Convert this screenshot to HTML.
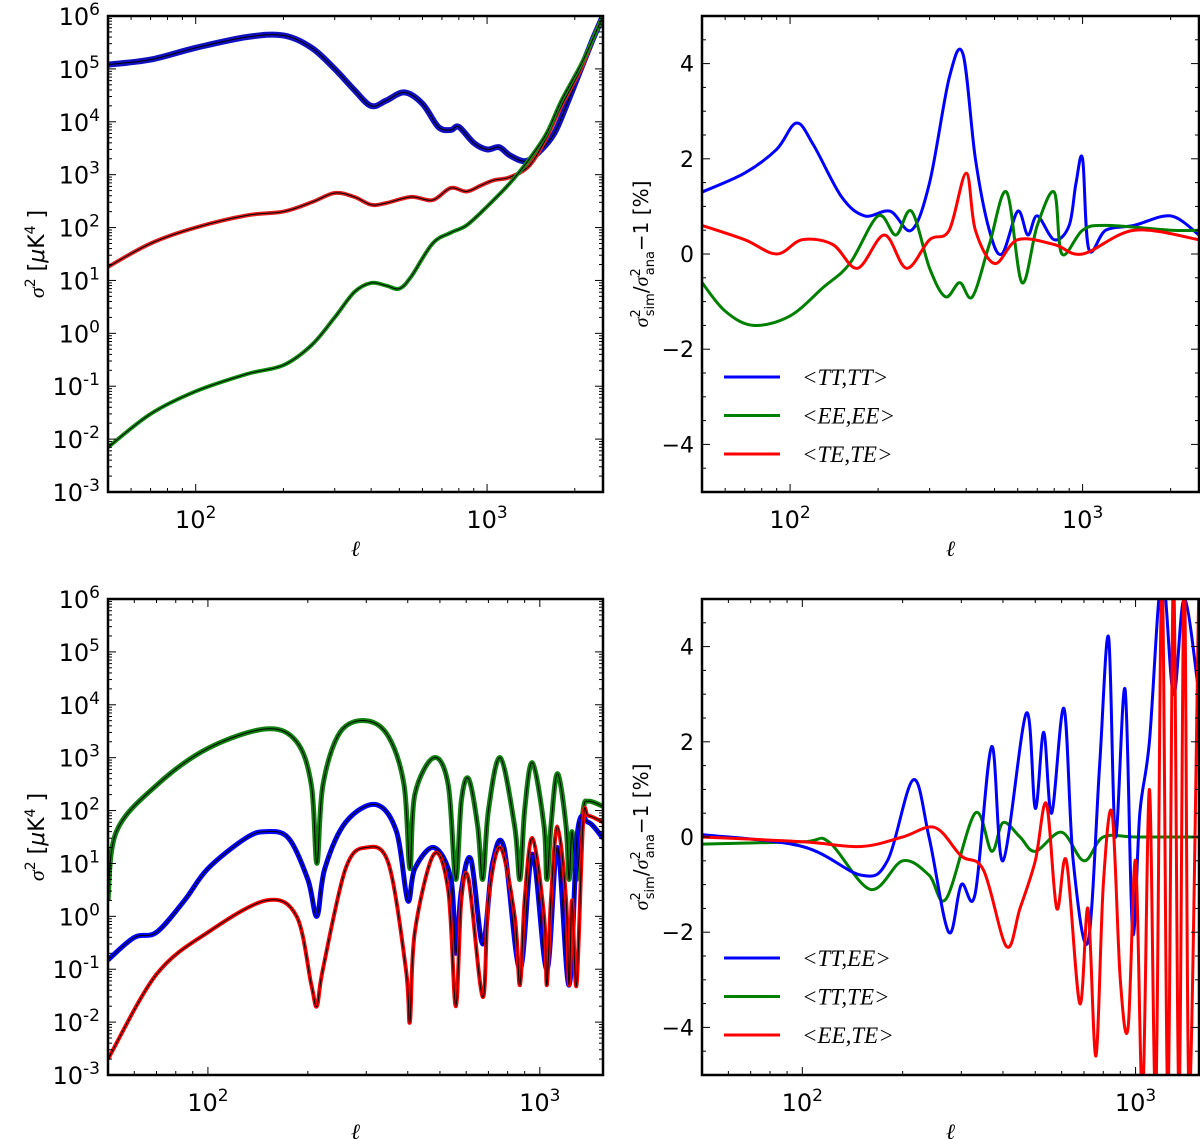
<!DOCTYPE html>
<html><head><meta charset="utf-8"><style>
body{margin:0;background:#fff}
svg{display:block;font-family:"DejaVu Sans","Liberation Sans",sans-serif}
</style></head><body>
<svg id="s" width="1200" height="1139" viewBox="0 0 1200 1139"></svg>
<script>
// ---------- data ----------
const tlTT=[[50,1.2e5],[70,1.5e5],[100,2.5e5],[150,4e5],[200,4.3e5],[250,2.5e5],[300,1e5],[350,4e4],[400,2e4],[450,2.5e4],[520,3.6e4],[600,2.2e4],[680,8e3],[750,7e3],[800,8e3],[900,4e3],[1000,3e3],[1100,3.3e3],[1200,2.3e3],[1350,1.8e3],[1500,2.6e3],[1700,6e3],[1900,2.5e4],[2100,1e5],[2300,3.5e5],[2500,1e6]];
const tlTE=[[50,18],[70,50],[100,100],[150,170],[200,200],[250,300],[300,450],[350,380],[400,270],[450,290],[550,380],[650,330],[750,560],[850,480],[950,620],[1050,780],[1200,900],[1400,1500],[1600,5e3],[1800,2e4],[2100,1e5],[2300,3.5e5],[2500,1e6]];
const tlEE=[[50,7e-3],[70,0.03],[100,0.08],[150,0.17],[200,0.25],[250,0.6],[300,2],[350,6],[400,9],[450,8],[500,7],[550,12],[650,50],[750,80],[850,110],[1000,250],[1200,700],[1400,2000],[1600,6e3],[1800,2.5e4],[2100,1.2e5],[2300,3.5e5],[2500,1e6]];
const trTT=[[50,1.3],[70,1.7],[90,2.2],[105,2.75],[120,2.3],[150,1.2],[180,0.8],[220,0.9],[260,0.5],[300,1.5],[350,3.7],[390,4.2],[430,2],[480,0.5],[530,0],[600,0.9],[650,0.4],[700,0.8],[800,0.3],[900,0.6],[950,1.5],[1000,2],[1050,0.1],[1200,0.5],[1500,0.6],[2000,0.8],[2500,0.4]];
const trEE=[[50,-0.6],[60,-1.2],[75,-1.5],[100,-1.3],[130,-0.7],[160,-0.2],[200,0.8],[230,0.4],[260,0.9],[300,-0.3],[340,-0.9],[380,-0.6],[420,-0.9],[480,0.2],[550,1.3],[620,-0.6],[700,0.6],[800,1.3],[850,0],[1000,0.5],[1200,0.6],[2000,0.5],[2500,0.5]];
const trTE=[[50,0.6],[70,0.3],[90,0],[110,0.3],[140,0.2],[170,-0.3],[210,0.4],[250,-0.3],[300,0.3],[350,0.5],[400,1.7],[430,0.5],[500,-0.2],[600,0.3],[800,0.2],[1000,0],[1500,0.5],[2500,0.3]];
const blEE=[[50,2],[53,40],[70,300],[100,1500],[150,3500],[185,2000],[205,300],[213,10],[222,300],[250,3000],[300,5000],[350,2500],[390,300],[406,8],[420,200],[480,1000],[530,300],[558,5],[580,150],[610,400],[650,50],[673,5],[700,100],[760,1000],[840,50],[871,5],[900,100],[950,800],[1030,50],[1050,5],[1080,50],[1130,500],[1200,50],[1225,5],[1250,40],[1290,5],[1350,100],[1400,150],[1550,120]];
const blTT=[[50,0.15],[60,0.4],[70,0.5],[85,2],[100,8],[130,30],[150,40],[175,30],[200,5],[213,1],[225,8],[260,60],[320,130],[370,40],[400,2],[420,8],[480,20],[540,5],[558,0.2],[580,3],[620,12],[673,0.3],[720,10],[780,20],[871,0.1],[950,15],[1050,0.1],[1130,20],[1225,0.05],[1300,40],[1400,60],[1550,30]];
const blTE=[[50,0.002],[70,0.08],[100,0.5],[150,2],[185,1],[205,0.05],[213,0.02],[222,0.1],[260,8],[300,20],[350,10],[395,0.1],[406,0.01],[420,0.5],[480,15],[530,3],[558,0.02],[580,2],[610,5],[673,0.03],[700,2],[760,20],[840,1],[871,0.05],[900,2],[950,30],[1030,1],[1050,0.05],[1080,2],[1130,50],[1200,2],[1225,0.05],[1250,2],[1290,0.05],[1350,60],[1400,80],[1550,60]];
const brTTEE=[[50,0.05],[100,-0.2],[150,-0.8],[180,-0.5],[215,1.2],[240,0],[275,-2],[300,-1],[330,-1.2],[370,1.9],[400,-0.5],[470,2.6],[500,0.6],[530,2.2],[560,0.5],[610,2.7],[650,-0.5],[720,-2.2],[780,1.5],[830,4.2],[870,0],[930,3.1],[980,-2],[1030,0.5],[1100,2],[1200,5.5],[1300,3],[1400,5],[1550,3]];
const brTTTE=[[50,-0.15],[100,-0.1],[120,-0.1],[160,-1.1],[200,-0.5],[240,-0.8],[270,-1.3],[330,0.5],[370,-0.3],[400,0.3],[450,0],[500,-0.3],[600,0.1],[700,-0.5],[800,0],[1000,0],[1550,0]];
const brEETE=[[50,0],[100,-0.1],[150,-0.2],[200,0],[250,0.2],[300,-0.4],[350,-0.7],[410,-2.3],[450,-1.5],[500,-0.5],[540,0.7],[580,-1.5],[620,-0.5],[680,-3.5],[720,-1.5],[760,-4.6],[800,-1],[850,0.5],[900,-3],[950,-4],[1000,-0.5],[1050,-5.5],[1100,1],[1150,-5.5],[1200,5.5],[1250,-5.5],[1300,5.5],[1350,-5.5],[1400,5.5],[1450,-5.5],[1550,5.5]];
const logTicks=["10\u2076","10\u2075","10\u2074","10\u00b3","10\u00b2","10\u00b9","10\u2070","10\u207b\u00b9","10\u207b\u00b2","10\u207b\u00b3"];
const linTicks=[4,2,0,-2,-4];

// ---------- helpers ----------
const S=document.getElementById('s'),NS='http://www.w3.org/2000/svg';
function mk(t,a,p){const e=document.createElementNS(NS,t);for(const k in a)e.setAttribute(k,a[k]);(p||S).appendChild(e);return e;}
function panel(x0,y0,x1,y1,xmax,logY,name){
  const g=mk('g',{});
  
  
  const lx=Math.log10(50),hx=Math.log10(xmax);
  const X=v=>x0+(Math.log10(v)-lx)/(hx-lx)*(x1-x0);
  const Y=logY?v=>y0+(6-Math.log10(Math.max(v,1e-4)))/9*(y1-y0):v=>y0+(5-v)/10*(y1-y0);
  return {g,X,Y,x0,y0,x1,y1,xmax,logY};
}
function curve(P,data,color,w,name){
  const pts=data.map(d=>[P.X(d[0]),P.Y(d[1])]);
  let d='M'+pts[0][0].toFixed(1)+','+pts[0][1].toFixed(1);
  for(let i=0;i<pts.length-1;i++){
    const p0=pts[Math.max(0,i-1)],p1=pts[i],p2=pts[i+1],p3=pts[Math.min(pts.length-1,i+2)];
    const c1=[p1[0]+(p2[0]-p0[0])/6,p1[1]+(p2[1]-p0[1])/6],c2=[p2[0]-(p3[0]-p1[0])/6,p2[1]-(p3[1]-p1[1])/6];
    d+='C'+c1.map(v=>v.toFixed(1))+' '+c2.map(v=>v.toFixed(1))+' '+p2.map(v=>v.toFixed(1));
  }
  const e=mk('path',{d,fill:'none',stroke:color,'stroke-width':w,'stroke-linejoin':'round'},P.cg);
  
  
}
function frame(P){
  const g=P.g;
  const r=mk('rect',{x:P.x0,y:P.y0,width:P.x1-P.x0,height:P.y1-P.y0,fill:'none',stroke:'#000','stroke-width':2.5},g);
  
  
  for(let dec=10;dec<=1000;dec*=10)for(let m=1;m<10;m++){const v=dec*m;if(v<50||v>P.xmax)continue;const x=P.X(v),L=m==1?8:4;
    mk('line',{x1:x,x2:x,y1:P.y1,y2:P.y1-L,stroke:'#000','stroke-width':1},g);mk('line',{x1:x,x2:x,y1:P.y0,y2:P.y0+L,stroke:'#000','stroke-width':1},g);}
  [[100,'2'],[1000,'3']].forEach(t=>{const tx=mk('text',{x:P.X(t[0]),y:P.y1+36,'font-size':24,'text-anchor':'middle'},g);tx.textContent='10';
    const sp=mk('tspan',{dy:-10,'font-size':17},tx);sp.textContent=t[1];});
  const xl=mk('text',{x:(P.x0+P.x1)/2,y:P.y1+64,'font-size':22,'font-style':'italic','text-anchor':'middle',"font-family":"Liberation Serif,serif"},g);xl.textContent='\u2113';
  
  if(P.logY){
    logTicks.forEach((t,i)=>{const y=P.y0+i*(P.y1-P.y0)/9;
      mk('line',{x1:P.x0,x2:P.x0+8,y1:y,y2:y,stroke:'#000'},g);mk('line',{x1:P.x1,x2:P.x1-8,y1:y,y2:y,stroke:'#000'},g);
      if(i<9)for(let m=2;m<10;m++){const yy=y+(P.y1-P.y0)/9*(1-Math.log10(m));mk('line',{x1:P.x0,x2:P.x0+4,y1:yy,y2:yy,stroke:'#000'},g);mk('line',{x1:P.x1,x2:P.x1-4,y1:yy,y2:yy,stroke:'#000'},g);}
      const tx=mk('text',{x:P.x0-8,y:y+9,'font-size':24,'text-anchor':'end'},g);tx.textContent='10';
      const sp=mk('tspan',{dy:-10,'font-size':17},tx);sp.textContent=t.slice(2).replace(/[\u2070\u00b9\u00b2\u00b3\u2074\u2075\u2076\u207b]/g,c=>({'\u2070':'0','\u00b9':'1','\u00b2':'2','\u00b3':'3','\u2074':'4','\u2075':'5','\u2076':'6','\u207b':'-'})[c]);
      });
    const yl=mk('text',{transform:`translate(44,${(P.y0+P.y1)/2}) rotate(-90)`,'font-size':22,'text-anchor':'middle'},g);
    yl.innerHTML='<tspan font-style="italic" font-family="Liberation Serif,serif">σ</tspan><tspan dy="-9" font-size="14">2</tspan><tspan dy="9">  [</tspan><tspan font-style="italic">μ</tspan>K<tspan dy="-9" font-size="14">4</tspan><tspan dy="9"> ]</tspan>';
    
  } else {
    for(let v=-5;v<=5;v+=0.5){const y=P.Y(v),L=Number.isInteger(v/2)?8:4;mk('line',{x1:P.x0,x2:P.x0+L,y1:y,y2:y,stroke:'#000'},g);mk('line',{x1:P.x1,x2:P.x1-L,y1:y,y2:y,stroke:'#000'},g);}
    linTicks.forEach(v=>{const tx=mk('text',{x:P.x0-8,y:P.Y(v)+8,'font-size':22,'text-anchor':'end'},g);tx.textContent=v<0?'\u2212'+(-v):String(v);
      });
    const yl=mk('text',{transform:`translate(648,${(P.y0+P.y1)/2}) rotate(-90)`,'font-size':20,'text-anchor':'middle'},g);
    yl.innerHTML='<tspan font-style="italic" font-family="Liberation Serif,serif">σ</tspan><tspan dy="-8" font-size="13">2</tspan><tspan dx="-7" dy="14" font-size="13">sim</tspan><tspan dy="-6">/</tspan><tspan font-style="italic" font-family="Liberation Serif,serif">σ</tspan><tspan dy="-8" font-size="13">2</tspan><tspan dx="-7" dy="14" font-size="13">ana</tspan><tspan dy="-6">−1 [%]</tspan>';
    
  }
}
function legend(P,y,items){
  const g=mk('g',{},P.g);
  
  
  items.forEach((it,i)=>{const yy=y+i*38.5;
    mk('line',{x1:P.x0+22,x2:P.x0+78,y1:yy,y2:yy,stroke:it[1],'stroke-width':3},g);
    const t=mk('text',{x:P.x0+100,y:yy+8,'font-size':23,'font-style':'italic','font-family':'Liberation Serif,serif'},g);t.textContent=it[0];
    });
}
function clip(P,id){const c=mk('clipPath',{id});mk('rect',{x:P.x0,y:P.y0,width:P.x1-P.x0,height:P.y1-P.y0},c);P.cg=mk('g',{'clip-path':`url(#${id})`},P.g);}

const B='#0000ff',G='#008000',R='#ff0000';
let P=panel(108,16,603,492,2500,true,'top-left-panel');clip(P,'c1');
curve(P,tlTT,'#1010c0',6,'tt-tt-sim');curve(P,tlTT,'#000',1,'tt-tt-ana');
curve(P,tlTE,'#e02020',4,'te-te-sim');curve(P,tlTE,'#000',1,'te-te-ana');
curve(P,tlEE,'#109010',4,'ee-ee-sim');curve(P,tlEE,'#000',1,'ee-ee-ana');
frame(P);
P=panel(702,16,1199,492,2500,false,'top-right-panel');clip(P,'c2');
curve(P,trTT,B,3,'tt-tt-ratio');curve(P,trEE,G,3,'ee-ee-ratio');curve(P,trTE,R,3,'te-te-ratio');
frame(P);legend(P,377,[['<TT,TT>',B],['<EE,EE>',G],['<TE,TE>',R]]);
P=panel(108,599,603,1075,1550,true,'bottom-left-panel');clip(P,'c3');
curve(P,blEE,'#108010',5,'tt-ee-sim');curve(P,blEE,'#000',1,'tt-ee-ana');
curve(P,blTT,B,5,'tt-te-sim');curve(P,blTT,'#000',1,'tt-te-ana');
curve(P,blTE,R,4,'ee-te-sim');curve(P,blTE,'#000',1,'ee-te-ana');
frame(P);
P=panel(702,599,1199,1075,1550,false,'bottom-right-panel');clip(P,'c4');
curve(P,brTTTE,G,3,'tt-te-ratio');curve(P,brTTEE,B,3,'tt-ee-ratio');curve(P,brEETE,R,3,'ee-te-ratio');
frame(P);legend(P,958,[['<TT,EE>',B],['<TT,TE>',G],['<EE,TE>',R]]);
</script>
</body></html>
